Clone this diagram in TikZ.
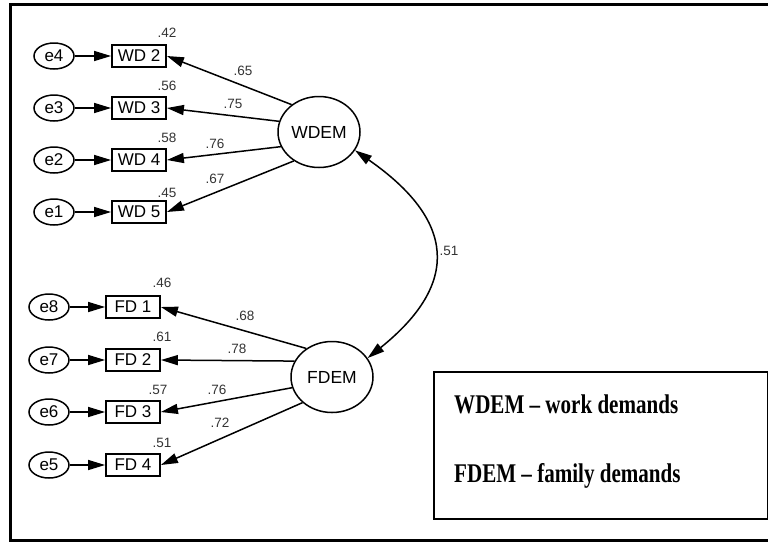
\documentclass[tikz,border=0pt]{standalone}
\usepackage{fontspec}
\usepackage{graphicx}
\newfontfamily\amosfont{Liberation Sans}
\newfontfamily\legendfont{Liberation Serif}
\usetikzlibrary{shapes.geometric,arrows.meta}

\tikzset{
  errvar/.style={ellipse, draw, line width=1.5pt, inner sep=0pt,
    minimum width=40pt, minimum height=26pt, font=\amosfont\fontsize{17}{19}\selectfont},
  indicator/.style={rectangle, draw, line width=1.8pt, inner sep=0pt,
    minimum width=54pt, minimum height=22pt, font=\amosfont\fontsize{17}{19}\selectfont},
  latent/.style={ellipse, draw, line width=1.5pt, inner sep=0pt,
    minimum width=82pt, minimum height=71pt, font=\amosfont\fontsize{17.5}{19}\selectfont},
  coef/.style={inner sep=0pt, text=black!80, font=\amosfont\fontsize{13.5}{14}\selectfont},
  path arrow/.style={line width=1.5pt, -{Triangle[length=17pt,width=10pt]}},
  legendtext/.style={anchor=base west, inner sep=0pt}
}

\begin{document}
\begin{tikzpicture}[x=1pt,y=-1pt]
\useasboundingbox (0,0) rectangle (768,542);

% outer frame (right side runs past the page edge)
\draw[line width=3pt] (800,4.5) -- (10.5,4.5) -- (10.5,540) -- (800,540);

% work demands block
\node[latent] (WDEM) at (319,132) {WDEM};
\node[indicator] (WD2) at (139,56) {WD 2};
\node[indicator] (WD3) at (139,108) {WD 3};
\node[indicator] (WD4) at (139,160) {WD 4};
\node[indicator] (WD5) at (139,212) {WD 5};
\node[errvar] (e4) at (54,56) {e4};
\node[errvar] (e3) at (54,108) {e3};
\node[errvar] (e2) at (54,160) {e2};
\node[errvar] (e1) at (54,212) {e1};

\foreach \e/\w in {e4/WD2, e3/WD3, e2/WD4, e1/WD5}
  \draw[path arrow] (\e.east) -- (\w.west);

\draw[path arrow] (WDEM.135) -- (WD2.east);
\draw[path arrow] (WDEM.165) -- (WD3.east);
\draw[path arrow] (WDEM.201) -- (WD4.east);
\draw[path arrow] (WDEM.229) -- (WD5.east);

\node[coef] (r42) at (167,33) {.42};
\node[coef] (r56) at (167,86) {.56};
\node[coef] (r58) at (167,138) {.58};
\node[coef] (r45) at (167,193) {.45};
\node[coef] (l65) at (243,71) {.65};
\node[coef] (l75) at (233,104) {.75};
\node[coef] (l76a) at (215,144) {.76};
\node[coef] (l67) at (215,179) {.67};

% family demands block
\node[latent] (FDEM) at (332,377) {FDEM};
\node[indicator] (FD1) at (133,307) {FD 1};
\node[indicator] (FD2) at (133,360) {FD 2};
\node[indicator] (FD3) at (133,412) {FD 3};
\node[indicator] (FD4) at (133,465) {FD 4};
\node[errvar] (e8) at (49,307) {e8};
\node[errvar] (e7) at (49,360) {e7};
\node[errvar] (e6) at (49,412) {e6};
\node[errvar] (e5) at (49,465) {e5};

\foreach \e/\f in {e8/FD1, e7/FD2, e6/FD3, e5/FD4}
  \draw[path arrow] (\e.east) -- (\f.west);

\draw[path arrow] (FDEM.132) -- (FD1.east);
\draw[path arrow] (FDEM.157) -- (FD2.east);
\draw[path arrow] (FDEM.195) -- (FD3.east);
\draw[path arrow] (FDEM.221) -- (FD4.east);

\node[coef] (r46) at (162,283) {.46};
\node[coef] (r61) at (162,337) {.61};
\node[coef] (r57) at (158,390) {.57};
\node[coef] (r51) at (162,443) {.51};
\node[coef] (l68) at (245,316) {.68};
\node[coef] (l78) at (237,349) {.78};
\node[coef] (l76b) at (217,390) {.76};
\node[coef] (l72) at (220,423) {.72};

% covariance between the two factors
\draw[line width=1.5pt, {Triangle[length=17pt,width=10pt]}-{Triangle[length=17pt,width=10pt]}]
  (WDEM.-27) .. controls (455,220) and (461,283) .. (FDEM.28);
\node[coef] (cov) at (449,251) {.51};

% legend
\node[draw, line width=1.8pt, minimum width=334pt, minimum height=147pt, inner sep=0pt,
  anchor=north west] (legend) at (433,371) {};
\node[legendtext] (leg1) at (454,413)
  {\scalebox{0.78}[1]{\legendfont\bfseries\fontsize{27}{30}\selectfont WDEM – work demands}};
\node[legendtext] (leg2) at (454,482)
  {\scalebox{0.78}[1]{\legendfont\bfseries\fontsize{27}{30}\selectfont FDEM – family demands}};
\end{tikzpicture}
\end{document}
